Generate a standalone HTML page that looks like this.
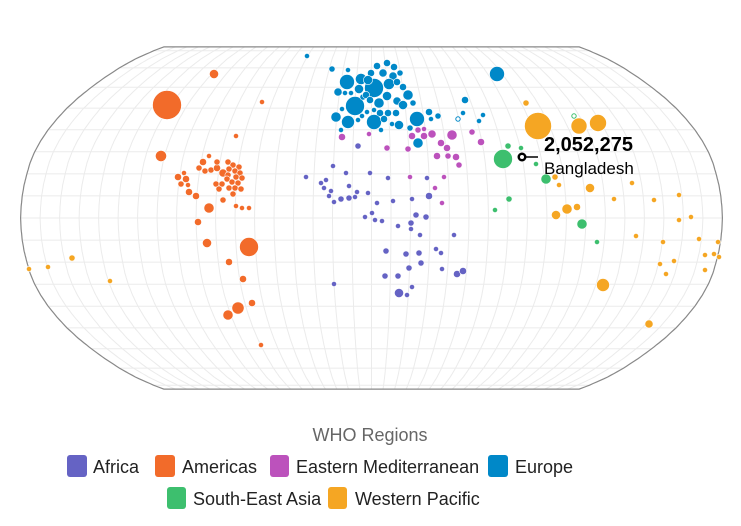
<!DOCTYPE html>
<html><head><meta charset="utf-8"><style>
html,body{margin:0;padding:0;background:#fff;}
svg{display:block;font-family:"Liberation Sans",sans-serif;}
</style></head><body>
<svg id="s" width="741" height="526" viewBox="0 0 741 526" xmlns="http://www.w3.org/2000/svg">
<g id="grat"></g>
<g id="dots"></g>
<line x1="522" y1="157" x2="538" y2="157" stroke="#000" stroke-width="1.5"/>
<circle cx="522" cy="157" r="4.5" fill="#000"/>
<circle cx="522" cy="157" r="2" fill="#fff"/>
<text x="544" y="151" font-size="20" font-weight="bold" fill="#000">2,052,275</text>
<text x="544" y="174" font-size="17" fill="#000">Bangladesh</text>
<text x="370" y="441" font-size="18" fill="#666" text-anchor="middle">WHO Regions</text>
<g font-size="18" fill="#222">
<rect x="67" y="455" width="20" height="22" rx="3" fill="#6563c4"/><text x="93" y="473">Africa</text>
<rect x="155" y="455" width="20" height="22" rx="3" fill="#f26b2a"/><text x="182" y="473">Americas</text>
<rect x="270" y="455" width="19" height="22" rx="3" fill="#bc52bc"/><text x="296" y="473">Eastern Mediterranean</text>
<rect x="488" y="455" width="20" height="22" rx="3" fill="#0088c8"/><text x="515" y="473">Europe</text>
<rect x="167" y="487" width="19" height="22" rx="3" fill="#3dbf6e"/><text x="193" y="505">South-East Asia</text>
<rect x="328" y="487" width="19" height="22" rx="3" fill="#f5a623"/><text x="355" y="505">Western Pacific</text>
</g>
</svg>
<script>
var X=[1,.9986,.9954,.99,.9822,.973,.96,.9427,.9216,.8962,.8679,.835,.7986,.7597,.7186,.6732,.6213,.5722,.5322];
var Y=[0,.062,.124,.186,.248,.31,.372,.434,.4958,.5571,.6176,.6769,.7346,.7903,.8435,.8936,.9394,.9761,1];
function interp(a,lat){var t=Math.abs(lat)/5,i=Math.min(17,Math.floor(t)),f=t-i;return a[i]+(a[i+1]-a[i])*f;}
var cx=371.5,cy=218,R=131.6;
function P(lon,lat){var x=cx+0.8487*R*interp(X,lat)*lon*Math.PI/180;var y=cy-1.3523*R*interp(Y,lat)*(lat<0?-1:1);return [x.toFixed(1),y.toFixed(1)];}
var LM=83,g="";
for(var lon=-180;lon<=180;lon+=10){var d="";for(var la=-LM;la<=LM;la+=1){var p=P(lon,la);d+=(d?"L":"M")+p[0]+","+p[1];}
 if(Math.abs(lon)<180)g+='<path d="'+d+'" fill="none" stroke="#ebebeb" stroke-width="1"/>';}
for(var la=-80;la<=80;la+=10){var p1=P(-180,la),p2=P(180,la);g+='<line x1="'+p1[0]+'" y1="'+p1[1]+'" x2="'+p2[0]+'" y2="'+p2[1]+'" stroke="#ebebeb" stroke-width="1"/>';}
var d="";for(var la=LM;la>=-LM;la--){var p=P(-180,la);d+=(d?"L":"M")+p[0]+","+p[1];}
for(var la=-LM;la<=LM;la++){var p=P(180,la);d+="L"+p[0]+","+p[1];}
d+="Z";g+='<path d="'+d+'" fill="none" stroke="#888" stroke-width="1.2"/>';
document.getElementById("grat").innerHTML=g;
var C={A:"#6563c4",M:"#f26b2a",E:"#bc52bc",U:"#0088c8",S:"#3dbf6e",W:"#f5a623"};
var D={
M:[[214,74,4],[167,105,14],[262,102,2],[236,136,2],[161,156,5],[209,156,2],[203,162,3],[199,168,2.5],[205,171,2.5],[211,170,2.5],[217,168,3],[217,162,2.5],[223,173,3.5],[228,162,2.5],[233,165,2.5],[239,167,2.5],[229,169,2.5],[235,171,2.5],[240,173,2.5],[228,175,2.5],[236,177,2.5],[242,178,2.5],[227,179,2.5],[232,182,2.5],[238,183,2.5],[216,184,2.5],[222,184,2.5],[219,189,2.5],[229,188,2.5],[235,188,2.5],[241,189,2.5],[233,194,2.5],[178,177,3],[184,173,2],[186,179,3],[181,184,2.5],[188,185,2],[189,192,3],[196,196,3],[223,200,2.5],[209,208,4.5],[236,206,2],[242,208,2],[249,208,2],[198,222,3],[207,243,4],[249,247,9],[229,262,3],[243,279,3],[252,303,3],[238,308,5.5],[228,315,4.5],[261,345,2]],
U:[[307,56,2],[332,69,2.5],[347,82,7],[361,79,5],[338,92,3.5],[345,93,2],[351,93,2],[359,89,4],[355,106,9],[363,97,2.5],[348,70,2],[336,117,4.5],[348,122,6],[358,120,2],[362,116,2],[367,112,2],[341,130,2],[342,109,2],[377,66,3],[387,63,3],[371,73,3],[383,73,3.5],[394,67,3],[400,73,2.5],[393,76,3.5],[374,88,9],[389,84,5],[397,82,3],[403,87,3],[408,95,4.5],[387,96,4],[397,101,3.5],[379,103,4.5],[403,105,4],[413,103,2.5],[388,113,3],[396,113,3],[380,113,3],[374,110,2],[374,122,7],[417,119,7],[384,119,3],[392,124,2],[399,125,4],[381,130,2],[410,128,2.5],[429,112,3],[431,119,2],[438,116,2.5],[418,143,4.5],[465,100,3],[463,113,2],[483,115,2],[479,121,2],[497,74,7],[368,80,4],[366,95,3],[370,100,3]],
E:[[342,137,3],[369,134,2],[412,136,3],[418,130,2.5],[424,136,3],[432,134,3.5],[424,129,2],[452,135,4.5],[472,132,2.5],[481,142,3],[441,143,3],[447,148,3],[387,148,2.5],[408,149,2.5],[437,156,3],[448,156,2.5],[456,157,3],[459,165,2.5],[410,177,2],[444,177,2],[435,188,2],[442,203,2]],
A:[[358,146,2.5],[333,166,2],[306,177,2],[346,173,2],[326,180,2],[321,183,2],[324,188,2],[349,186,2],[331,191,2],[357,192,2],[368,193,2],[329,196,2],[334,202,2],[341,199,2.5],[349,198,2.5],[355,197,2],[365,217,2],[334,284,2],[370,173,2],[388,178,2],[427,178,2],[429,196,3],[412,199,2],[393,201,2],[377,203,2],[372,213,2],[375,220,2],[382,221,2],[398,226,2],[411,223,2.5],[416,215,2.5],[426,217,2.5],[411,229,2],[420,235,2],[454,235,2],[386,251,2.5],[406,254,2.5],[419,253,2.5],[436,249,2],[441,253,2],[421,263,2.5],[409,268,2.5],[442,269,2],[457,274,3],[463,271,3],[385,276,2.5],[398,276,2.5],[412,287,2],[399,293,4],[407,295,2]],
S:[[503,159,9],[508,146,2.5],[521,148,2],[536,164,2],[546,179,4.5],[509,199,2.5],[495,210,2],[582,224,4.5],[597,242,2]],
W:[[29,269,2],[48,267,2],[72,258,2.5],[110,281,2],[538,126,13],[526,103,2.5],[579,126,7.5],[598,123,8],[555,177,2.5],[559,185,2],[590,188,4],[632,183,2],[614,199,2],[654,200,2],[679,195,2],[556,215,4],[567,209,4.5],[577,207,3],[679,220,2],[691,217,2],[636,236,2],[663,242,2],[699,239,2],[718,242,2],[705,255,2],[714,254,2],[719,257,2],[674,261,2],[660,264,2],[666,274,2],[705,270,2],[603,285,6],[649,324,3.5]]
};
var h="";
for(var k in D){D[k].forEach(function(c){var r=c[2]<6?c[2]+0.6:c[2]+0.5;h+='<circle cx="'+c[0]+'" cy="'+c[1]+'" r="'+r+'" fill="'+C[k]+'" stroke="#fff" stroke-width="0.6"/>';});}
h+='<circle cx="458" cy="119" r="2.2" fill="#fff" stroke="#0088c8" stroke-width="1"/>';
h+='<circle cx="574" cy="116" r="2.2" fill="#fff" stroke="#3dbf6e" stroke-width="1"/>';
document.getElementById("dots").innerHTML=h;
</script>
</body></html>
